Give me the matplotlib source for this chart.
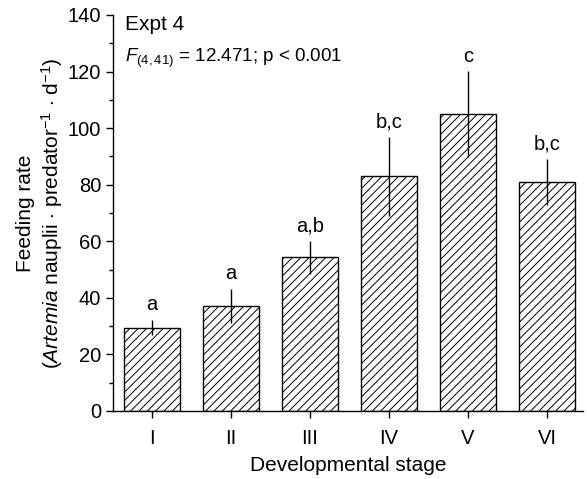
import numpy as np
import matplotlib
matplotlib.use("Agg")
import matplotlib.pyplot as plt

plt.rcParams["font.family"] = "Liberation Sans"
plt.rcParams["mathtext.fontset"] = "custom"
plt.rcParams["mathtext.rm"] = "Liberation Sans"
plt.rcParams["mathtext.it"] = "Liberation Sans:italic"
plt.rcParams["hatch.linewidth"] = 0.7

# Data
stages = ["I", "II", "III", "IV", "V", "VI"]
feeding_rate = [29.5, 37.1, 54.3, 82.9, 104.9, 81.1]
sem = [2.8, 6.1, 5.7, 13.8, 15.2, 8.1]
letters = ["a", "a", "a,b", "b,c", "c", "b,c"]

fig = plt.figure(figsize=(5.87, 4.79), dpi=100)
ax = fig.add_axes([0.1925, 0.142, 0.8005, 0.8267])

x = np.arange(1, len(stages) + 1)
ax.bar(x, feeding_rate, width=0.71, color="white", edgecolor="black",
       linewidth=1.0, hatch="////", zorder=2)
ax.errorbar(x, feeding_rate, yerr=sem, fmt="none", ecolor="black",
            elinewidth=1.0, capsize=0, zorder=3)

for xi, yi, e, lab in zip(x, feeding_rate, sem, letters):
    ax.annotate(lab, (xi, yi + e), xytext=(0, 4), textcoords="offset points",
                ha="center", va="bottom", fontsize=14.5)

ax.set_xlim(0.505, 6.455)
ax.set_ylim(0, 140)
ax.set_xticks(x)
ax.set_xticklabels(stages)
ax.set_yticks(np.arange(0, 141, 20))
ax.set_yticks(np.arange(10, 140, 20), minor=True)
ax.tick_params(axis="both", which="major", direction="out", length=5,
               width=1, labelsize=14.5, colors="black")
ax.tick_params(axis="y", which="minor", direction="out", length=3, width=1)
ax.tick_params(axis="x", pad=8)

ax.spines["top"].set_visible(False)
ax.spines["right"].set_visible(False)
ax.spines["left"].set_linewidth(1)
ax.spines["bottom"].set_linewidth(1)

ax.set_xlabel("Developmental stage", fontsize=15, labelpad=6)
ax.set_ylabel("Feeding rate\n($\\it{Artemia}$ nauplii $\\cdot$ predator$^{-1}$ $\\cdot$ d$^{-1}$)",
              fontsize=15, linespacing=1.2, labelpad=2)

ax.text(0.025, 1.0, "Expt 4", transform=ax.transAxes, fontsize=15,
        ha="left", va="top")
ax.text(0.025, 0.92, "$\\it{F}_{(4,41)}$ = 12.471; p < 0.001",
        transform=ax.transAxes, fontsize=13.5, ha="left", va="top")

fig.savefig("out.png", dpi=100)
